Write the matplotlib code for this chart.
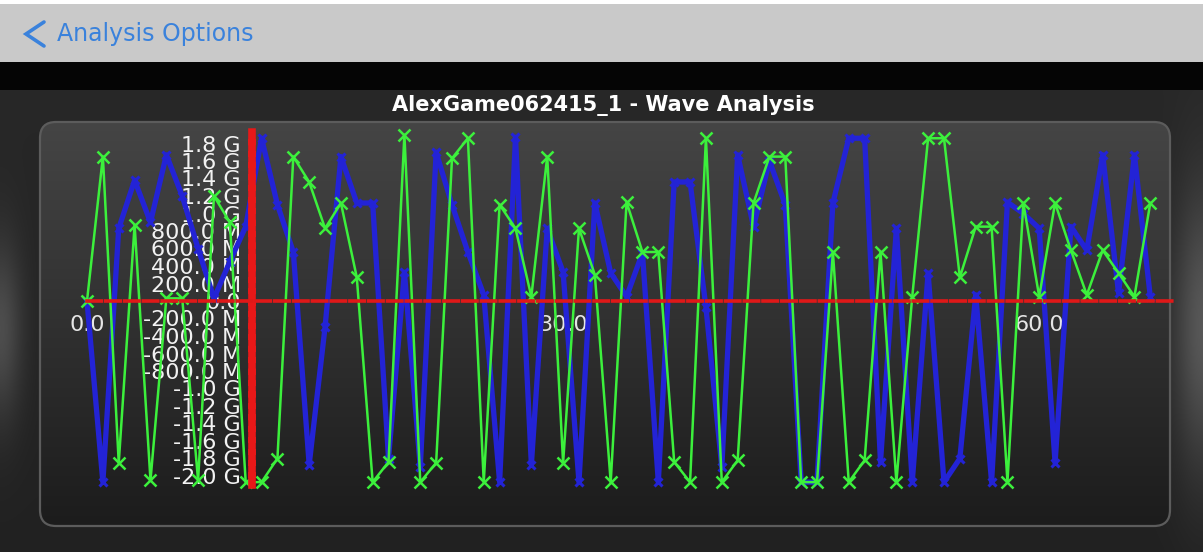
import numpy as np
import matplotlib
matplotlib.use("Agg")
import matplotlib.pyplot as plt
from matplotlib.patches import FancyBboxPatch, Rectangle
from matplotlib.lines import Line2D
from matplotlib.ticker import FixedLocator, FuncFormatter

W, H, DPI = 1203, 552, 100

# ---- data -------------------------------------------------------------
samples = list(range(68))
wave_blue = [0.0, -2.07, 0.83, 1.38, 0.9, 1.67, 1.2, 0.6, 0.03, 0.45,
             0.85, 1.86, 1.1, 0.56, -1.87, -0.3, 1.65, 1.12, 1.12, -1.8,
             0.33, -1.9, 1.7, 1.1, 0.56, 0.07, -2.07, 1.87, -1.87, 0.83,
             0.33, -2.07, 1.12, 0.32, 0.05, 0.55, -2.07, 1.36, 1.36, -0.07,
             -1.9, 1.67, 0.85, 1.6, 1.1, -2.07, -2.07, 1.12, 1.86, 1.86,
             -1.84, 0.83, -2.07, 0.32, -2.07, -1.8, 0.07, -2.07, 1.13, 1.0,
             0.83, -1.85, 0.85, 0.58, 1.67, 0.09, 1.67, 0.05]
wave_green = [0.0, 1.65, -1.85, 0.87, -2.05, 0.03, 0.03, -2.05, 1.2, 0.9,
              -2.07, -2.07, -1.8, 1.65, 1.36, 0.83, 1.12, 0.27, -2.07, -1.84,
              1.9, -2.07, -1.85, 1.63, 1.86, -2.07, 1.1, 0.83, 0.05, 1.65,
              -1.85, 0.83, 0.3, -2.07, 1.13, 0.56, 0.56, -1.84, -2.07, 1.86,
              -2.07, -1.82, 1.12, 1.65, 1.65, -2.07, -2.07, 0.56, -2.07, -1.82,
              0.56, -2.07, 0.05, 1.86, 1.86, 0.27, 0.85, 0.85, -2.07, 1.12,
              0.05, 1.12, 0.58, 0.07, 0.58, 0.32, 0.05, 1.12]
y_ticks = [round(-2.0 + 0.2 * i, 1) for i in range(20)]
x_ticks = [0.0, 30.0, 60.0]
cursor_x = 10.4
chart_title = "AlexGame062415_1 - Wave Analysis"
back_label = "Analysis Options"

# ---- figure & pixel-space backdrop -------------------------------------
fig = plt.figure(figsize=(W / DPI, H / DPI), dpi=DPI)
fig.patch.set_facecolor("white")
bg = fig.add_axes([0, 0, 1, 1])
bg.set_xlim(0, W)
bg.set_ylim(H, 0)
bg.axis("off")

yy, xx = np.mgrid[0:H, 0:W].astype(float)
shade = np.full((H, W), 0.13)
shade += 0.03 * np.clip((H - yy) / H, 0, 1)
shade += 0.16 * np.exp(-(xx / 22.0) ** 2) * np.exp(-((yy - 330) / 90.0) ** 2)
shade += 0.20 * np.exp(-((W - xx) / 30.0) ** 2) * np.exp(-((yy - 330) / 140.0) ** 2)
img = np.dstack([shade, shade, shade])
img[yy < 90] = 0.02
img[yy < 62] = 0.79
img[yy < 4] = 1.0
bg.imshow(np.clip(img, 0, 1), extent=(0, W, H, 0), aspect="auto",
          interpolation="bilinear", zorder=0)

# header bar
bg.add_line(Line2D([44, 26, 44], [22, 34, 46], color="#3a82dc", lw=2.6,
                   solid_capstyle="round", solid_joinstyle="miter", zorder=2))
bg.text(57, 34, back_label, color="#3a82dc", fontsize=17, va="center",
        ha="left", zorder=2)

# rounded chart panel with vertical gradient
px0, py0, px1, py1 = 40, 122, 1170, 526
panel = FancyBboxPatch((px0, py0), px1 - px0, py1 - py0,
                       boxstyle="round,pad=0,rounding_size=16",
                       facecolor="none", edgecolor="#5c5c5c", lw=1.6, zorder=3)
bg.add_patch(panel)
g = np.linspace(0.27, 0.11, 200)[:, None] * np.ones((1, 4))
grad = np.dstack([g, g, g])
gim = bg.imshow(grad, extent=(px0, px1, py1, py0), aspect="auto",
                interpolation="bilinear", zorder=1)
gim.set_clip_path(panel)

fig.text(603 / W, 1 - 106 / H, chart_title, color="white", fontsize=15,
         fontweight="bold", ha="center", va="center")

# ---- plot area ---------------------------------------------------------
px_per_x = 15.87
px_per_y = 87.5
zero_px = 301
x_lo, x_hi = 0.0, 68.5
y_lo, y_hi = -2.1, 1.95
top_px = zero_px - y_hi * px_per_y
bot_px = zero_px - y_lo * px_per_y
ax = fig.add_axes([87 / W, (H - bot_px) / H,
                   (x_hi - x_lo) * px_per_x / W, (bot_px - top_px) / H])
ax.set_xlim(x_lo, x_hi)
ax.set_ylim(y_lo, y_hi)
ax.patch.set_alpha(0)

for s in ("top", "right"):
    ax.spines[s].set_visible(False)
ax.spines["left"].set_position(("data", cursor_x))
ax.spines["left"].set_color("#e81818")
ax.spines["left"].set_linewidth(5.5)
ax.spines["left"].set_linestyle((0, (1.2, 0.3)))
ax.spines["bottom"].set_position(("data", 0))
ax.spines["bottom"].set_color("#e01818")
ax.spines["bottom"].set_linewidth(2.6)
ax.spines["bottom"].set_linestyle((0, (4, 1.2)))


def volt_label(v, _pos=None):
    if abs(v) < 1e-9:
        return "0.0"
    if abs(v) >= 1 - 1e-9:
        return f"{v:.1f} G"
    return f"{v * 1000:.1f} M"


ax.yaxis.set_major_locator(FixedLocator(y_ticks))
ax.yaxis.set_major_formatter(FuncFormatter(volt_label))
ax.xaxis.set_major_locator(FixedLocator(x_ticks))
ax.xaxis.set_major_formatter(FuncFormatter(lambda v, p: f"{v:.1f}"))
ax.tick_params(axis="y", length=0, pad=8, labelsize=16, labelcolor="#f2f2f2")
ax.tick_params(axis="x", length=0, pad=10, labelsize=16, labelcolor="#e6e6e6")

ax.plot(samples, wave_blue, color="#2323d6", lw=3.8, marker="x", ms=6,
        mew=2.2, zorder=2, clip_on=False)
ax.plot(samples, wave_green, color="#3cf03c", lw=1.8, marker="x", ms=8,
        mew=1.8, zorder=2.2, clip_on=False)

fig.savefig("out.png", dpi=DPI, facecolor=fig.get_facecolor())
